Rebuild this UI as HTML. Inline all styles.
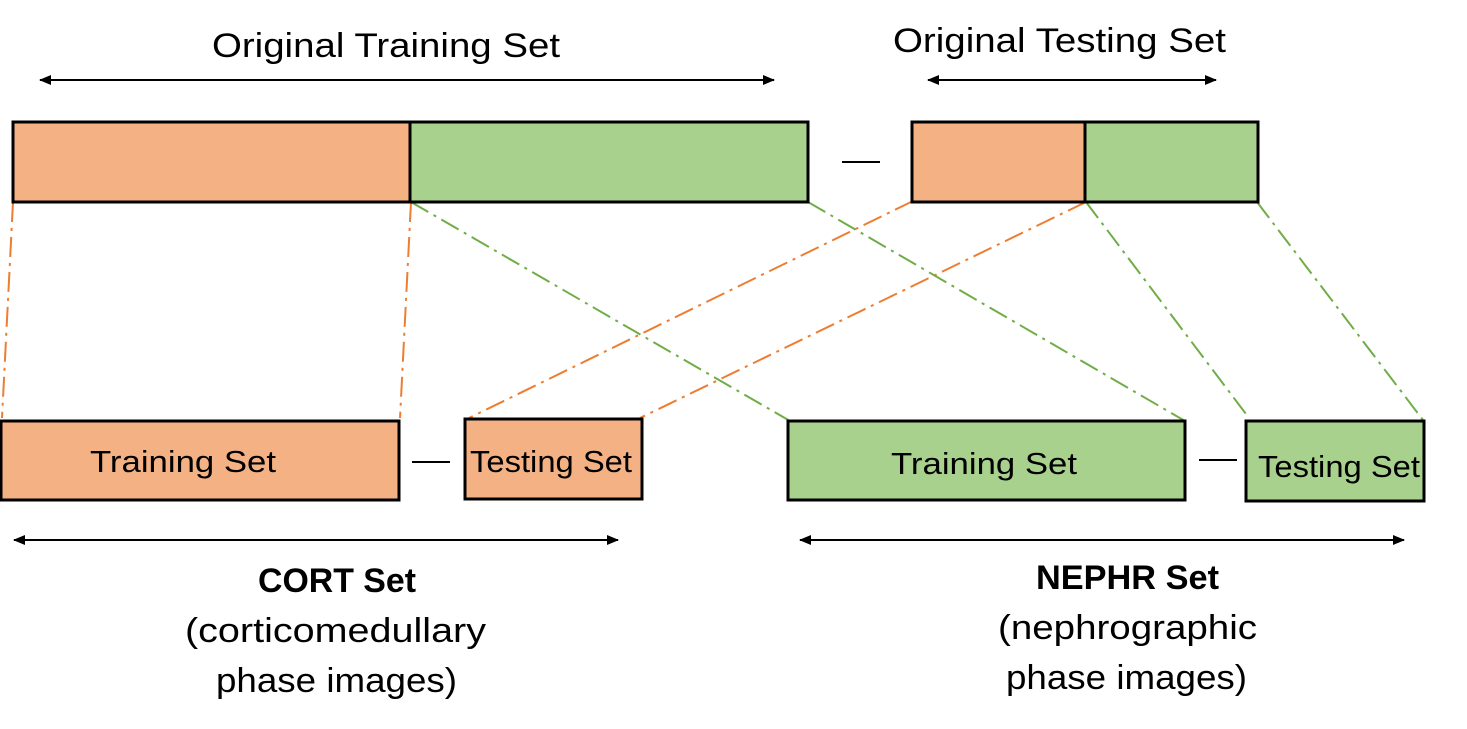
<!DOCTYPE html>
<html><head><meta charset="utf-8"><style>body{margin:0;background:#fff}svg{display:block}</style></head>
<body>
<svg width="1467" height="729" viewBox="0 0 1467 729" xmlns="http://www.w3.org/2000/svg" font-family="Liberation Sans, sans-serif">
<defs>
<marker id="a" markerWidth="12" markerHeight="10" refX="11" refY="5" orient="auto" markerUnits="userSpaceOnUse"><path d="M0,0 L12,5 L0,10 z" fill="#000"/></marker>
<marker id="b" markerWidth="12" markerHeight="10" refX="1" refY="5" orient="auto" markerUnits="userSpaceOnUse"><path d="M12,0 L0,5 L12,10 z" fill="#000"/></marker>
</defs>
<g stroke="#000" stroke-width="2">
<line x1="40" y1="80" x2="774" y2="80" marker-start="url(#b)" marker-end="url(#a)"/>
<line x1="928" y1="80" x2="1216" y2="80" marker-start="url(#b)" marker-end="url(#a)"/>
<line x1="14" y1="540" x2="618" y2="540" marker-start="url(#b)" marker-end="url(#a)"/>
<line x1="800" y1="540" x2="1404" y2="540" marker-start="url(#b)" marker-end="url(#a)"/>
<line x1="842" y1="162" x2="880" y2="162"/>
<line x1="412" y1="462" x2="450" y2="462"/>
<line x1="1199" y1="460" x2="1237" y2="460"/>
</g>
<g stroke-width="2" stroke-dasharray="20,6,3,6" fill="none">
<g stroke="#ED7D31">
<line x1="13" y1="202" x2="2" y2="418"/>
<line x1="411" y1="202" x2="400" y2="418"/>
<line x1="913" y1="201" x2="469" y2="418"/>
<line x1="1086" y1="202" x2="640" y2="418"/>
</g>
<g stroke="#70AD47">
<line x1="411" y1="202" x2="790" y2="421"/>
<line x1="808" y1="202" x2="1185" y2="421"/>
<line x1="1086" y1="202" x2="1249" y2="418"/>
<line x1="1257" y1="202" x2="1423" y2="420"/>
</g>
</g>
<g stroke="#000" stroke-width="3">
<rect x="13" y="122" width="397" height="80" fill="#F4B183"/>
<rect x="410" y="122" width="398" height="80" fill="#A9D18E"/>
<rect x="912" y="122" width="173" height="80" fill="#F4B183"/>
<rect x="1085" y="122" width="173" height="80" fill="#A9D18E"/>
<rect x="1" y="421" width="398" height="79" fill="#F4B183"/>
<rect x="465" y="419" width="177" height="80" fill="#F4B183"/>
<rect x="788" y="421" width="397" height="79" fill="#A9D18E"/>
<rect x="1246" y="421" width="178" height="80" fill="#A9D18E"/>
</g>
<g font-size="34" fill="#000">
<text x="212" y="57" textLength="348" lengthAdjust="spacingAndGlyphs">Original Training  Set</text>
<text x="893" y="52" textLength="333" lengthAdjust="spacingAndGlyphs">Original Testing  Set</text>
<text x="90" y="472" textLength="186" lengthAdjust="spacingAndGlyphs" font-size="31">Training  Set</text>
<text x="470" y="472" textLength="162" lengthAdjust="spacingAndGlyphs" font-size="31">Testing Set</text>
<text x="891" y="474" textLength="186" lengthAdjust="spacingAndGlyphs" font-size="31">Training  Set</text>
<text x="1258" y="477" textLength="162" lengthAdjust="spacingAndGlyphs" font-size="31">Testing Set</text>
<text x="258" y="592" font-weight="bold" textLength="158" lengthAdjust="spacingAndGlyphs">CORT Set</text>
<text x="185" y="642" textLength="301" lengthAdjust="spacingAndGlyphs">(corticomedullary</text>
<text x="216" y="692" textLength="241" lengthAdjust="spacingAndGlyphs">phase images)</text>
<text x="1036" y="589" font-weight="bold" textLength="183" lengthAdjust="spacingAndGlyphs">NEPHR Set</text>
<text x="998" y="639" textLength="259" lengthAdjust="spacingAndGlyphs">(nephrographic</text>
<text x="1006" y="689" textLength="241" lengthAdjust="spacingAndGlyphs">phase images)</text>
</g>
</svg>
</body></html>
